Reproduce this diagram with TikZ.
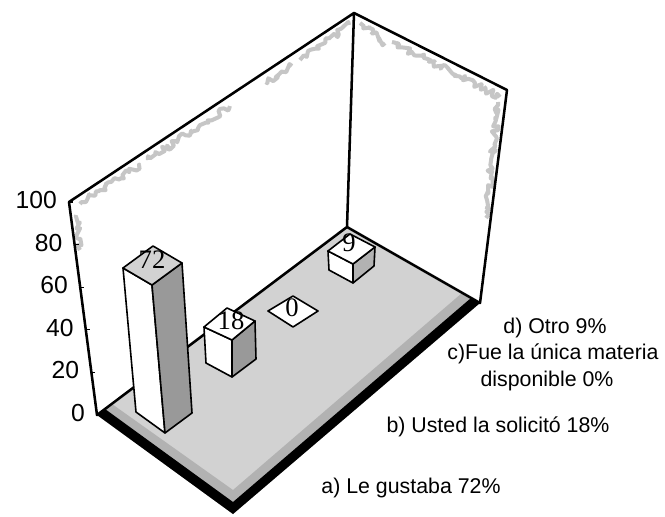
\documentclass[tikz,border=0pt]{standalone}
\usepackage{fontspec}
\setmainfont{Liberation Sans}
\newfontfamily\barfont{Liberation Serif}
\usetikzlibrary{decorations.pathmorphing}
\begin{document}
\begin{tikzpicture}[x=0.75pt,y=-0.75pt,line join=round,
  edge/.style={line width=1.9pt},
  face/.style={draw=black,line width=1.2pt},
  axislbl/.style={anchor=east,font=\fontsize{18.5}{20}\selectfont,inner sep=0pt},
  leg/.style={font=\fontsize{16}{18}\selectfont,inner sep=0pt},
  barlbl/.style={font=\barfont\fontsize{20}{21}\selectfont,inner sep=0pt},
  speck/.style={gray!45,line width=3pt,decorate,
    decoration={random steps,segment length=2pt,amplitude=2.5pt}}]
\pgfmathsetseed{7}
\useasboundingbox (0,0) rectangle (665,517);
% frame corners
\coordinate (BL) at (97,415);
\coordinate (TL) at (69,202);
\coordinate (T)  at (354,13);
\coordinate (B)  at (347,227);
\coordinate (TR) at (507,90);
\coordinate (BR) at (480,303);
\coordinate (F)  at (233,514);
% floor
\fill[gray!35] (BL)--(B)--(BR)--(F)--cycle;
\fill[gray!60] (BL)--(F)--(BR)--(462,293)--(233,490)--(112,404)--cycle;
\fill[black] (BL)--(F)--(BR)--(471,298)--(233,502)--(105,409)--cycle;
% walls
\fill[white] (TL)--(T)--(B)--(BL)--cycle;
\fill[white] (T)--(TR)--(BR)--(B)--cycle;
\draw[speck] (80,204)--(140,165);
\draw[speck] (148,160)--(230,106);
\draw[speck] (266,82)--(292,66);
\draw[speck] (300,60)--(349,25);
\draw[speck] (360,23)--(385,43);
\draw[speck] (392,42)--(500,97);
\draw[speck] (498,102)--(486,218);
\draw[speck] (76,215)--(80,250);
\draw[edge] (TL)--(T)--(B)--(BL)--cycle;
\draw[edge] (T)--(TR)--(BR)--(B);
% axis ticks and labels
\foreach \v/\nm in {0/a,20/b,40/c,60/d,80/e,100/f}{
  \coordinate (ax\nm) at ({97-0.28*\v},{415-2.13*\v});
  \draw[line width=0.8pt] (ax\nm) -- ++(4,0);
  \node[axislbl] (lab\nm) at ([xshift=-12*0.75pt,yshift=2*0.75pt]ax\nm) {\v};
}
% bar d (9)
\filldraw[face,fill=white] (328,251)--(353,264)--(353,283)--(329,270)--cycle;
\filldraw[face,fill=gray!60] (353,264)--(375,247)--(374,266)--(353,283)--cycle;
\filldraw[face,fill=white] (328,251)--(350,234)--(375,247)--(353,264)--cycle;
\node[barlbl] (vd) at (349,243) {9};
% bar c (0)
\filldraw[face,fill=white] (268,311)--(293,296)--(318,311)--(293,327)--cycle;
\node[barlbl] (vc) at (292,308) {0};
% bar b (18)
\filldraw[face,fill=white] (204,327)--(232,340)--(232,377)--(206,363)--cycle;
\filldraw[face,fill=gray!80] (232,340)--(255,321)--(256,359)--(232,377)--cycle;
\filldraw[face,fill=white] (204,327)--(227,308)--(255,321)--(232,340)--cycle;
\node[barlbl] (vb) at (231,321) {18};
% bar a (72)
\filldraw[face,fill=white] (123,268)--(152,285)--(165,433)--(136,412)--cycle;
\filldraw[face,fill=gray!80] (152,285)--(182,263)--(192,413)--(165,433)--cycle;
\filldraw[face,fill=gray!35] (123,268)--(153,246)--(182,263)--(152,285)--cycle;
\node[barlbl] (va) at (152,260) {72};
% category labels
\node[leg] (legd) at (555,328) {d) Otro 9\%};
\node[leg] (legc) at (553,354) {c)Fue la única materia};
\node[leg] (legc2) at (547,381) {disponible 0\%};
\node[leg] (legb) at (498,427) {b) Usted la solicitó 18\%};
\node[leg] (lega) at (411,488) {a) Le gustaba 72\%};
\end{tikzpicture}
\end{document}
